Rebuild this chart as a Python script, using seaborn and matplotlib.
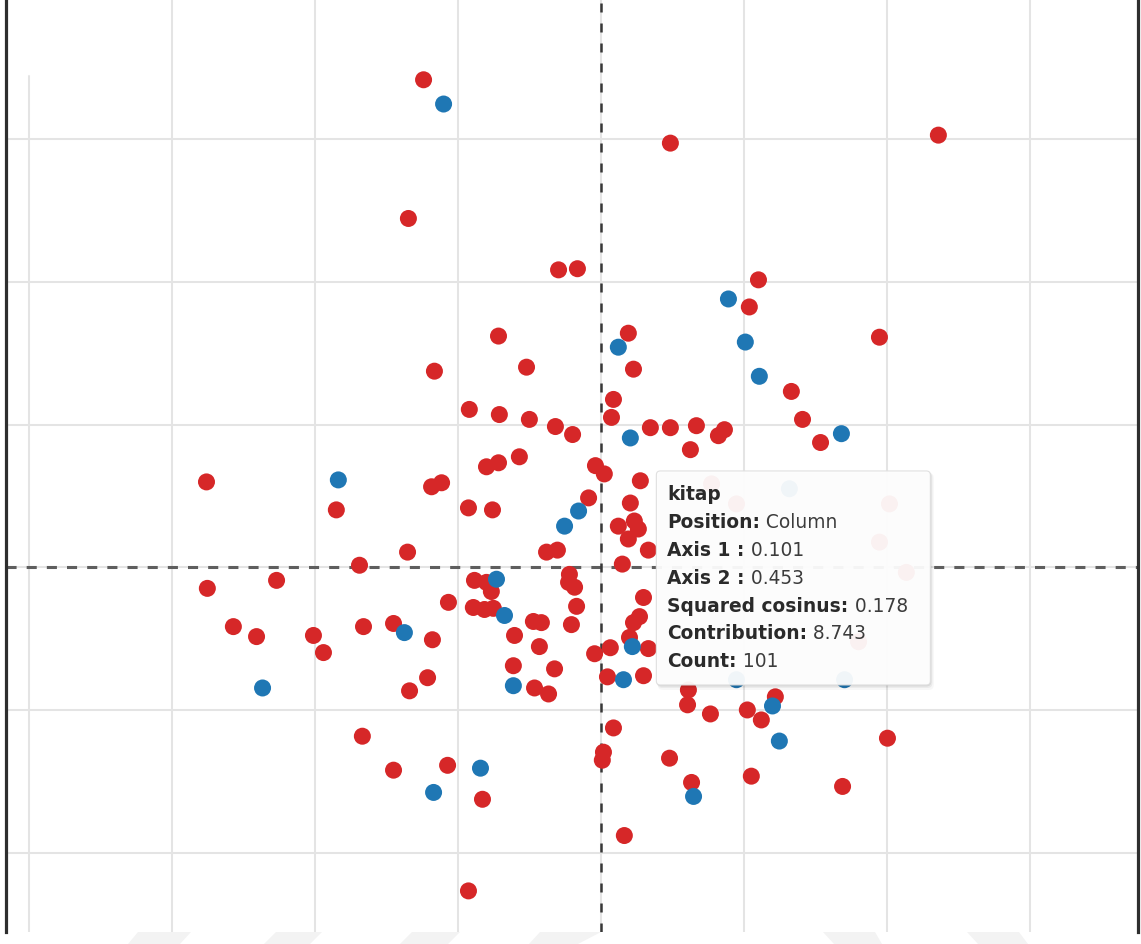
import matplotlib
matplotlib.use("Agg")
import matplotlib.pyplot as plt
import numpy as np
import pandas as pd
import seaborn as sns
from matplotlib.patches import FancyBboxPatch, Polygon
from matplotlib.transforms import IdentityTransform

# Row categories (red) – coordinates on the first two factorial axes
row_axis1 = [-0.622, -0.675, 0.241, 1.178, -0.150, -0.084, 0.549, 0.517, 0.972, -0.360,
             0.094, 0.112, -0.262, -0.584, 0.664, 0.042, -0.462, -0.357, 0.035, -0.252,
             0.703, -0.161, -0.101, 0.171, 0.241, 0.332, 0.409, 0.430, 0.766, 0.311,
             -1.381, -0.927, -0.594, -0.559, -0.402, -0.360, -0.287, -0.465, -0.381, -0.021,
             0.010, 0.136, -0.045, 0.101, 0.059, 0.115, 0.129, 0.094, 0.164, -0.192,
             -0.154, 0.073, -0.678, -0.846, -1.378, -1.136, -0.444, -0.402, -0.385, -0.535,
             -0.448, -0.409, -0.378, -0.112, -0.115, -0.094, -0.087, -0.105, 0.147, 0.133,
             0.112, 0.098, -1.287, -1.206, -1.007, -0.972, -0.832, -0.727, -0.591, -0.238,
             -0.210, -0.304, -0.217, 0.031, -0.024, 0.164, -0.608, -0.671, -0.308, -0.164,
             0.021, 0.147, -0.234, -0.185, 0.304, 0.301, 0.381, 0.510, 0.608, 0.559,
             -0.836, -0.727, -0.538, -0.416, 0.042, 0.007, 0.003, 0.238, 0.315, 0.524,
             0.843, 1.000, 0.080, -0.465, 0.385, 0.472, 1.007, 0.972, 1.066, 0.899]
row_axis2 = [1.708, 1.222, 1.486, 1.514, 1.042, 1.046, 1.007, 0.912, 0.806, 0.810,
             0.820, 0.694, 0.701, 0.687, 0.616, 0.588, 0.553, 0.535, 0.525, 0.518,
             0.518, 0.493, 0.465, 0.489, 0.489, 0.496, 0.461, 0.482, 0.437, 0.412,
             0.299, 0.201, 0.282, 0.296, 0.352, 0.366, 0.387, 0.208, 0.201, 0.356,
             0.327, 0.303, 0.243, 0.225, 0.144, 0.162, 0.134, 0.099, 0.060, 0.053,
             0.060, 0.011, 0.053, 0.007, -0.074, -0.046, -0.046, -0.053, -0.085, -0.123,
             -0.141, -0.148, -0.144, -0.025, -0.053, -0.070, -0.137, -0.201, -0.106, -0.173,
             -0.194, -0.246, -0.208, -0.243, -0.239, -0.299, -0.208, -0.197, -0.254, -0.190,
             -0.194, -0.239, -0.278, -0.282, -0.303, -0.285, -0.387, -0.433, -0.345, -0.356,
             -0.384, -0.380, -0.423, -0.444, -0.430, -0.482, -0.514, -0.500, -0.454, -0.535,
             -0.592, -0.711, -0.694, -0.813, -0.563, -0.648, -0.676, -0.669, -0.754, -0.732,
             -0.768, -0.599, -0.940, -1.134, 0.292, 0.222, 0.222, 0.088, -0.018, -0.261]

# Column categories (blue)
col_labels = ["c01", "c02", "c03", "c04", "c05", "kitap", "c07", "c08", "c09", "c10",
              "c11", "c12", "c13", "c14", "c15", "c16", "c17", "c18", "c19", "c20",
              "c21", "c22", "c23", "c24", "c25"]
col_axis1 = [-0.552, 0.444, 0.503, 0.552, 0.059, 0.101, 0.839, -0.920, -0.080, -0.129,
             -0.367, -0.339, -0.689, 0.108, 0.077, -0.308, -1.185, 0.598, 0.622, -0.423,
             -0.587, 0.322, 0.657, 0.850, 0.472]
col_axis2 = [1.623, 0.940, 0.789, 0.669, 0.771, 0.453, 0.468, 0.306, 0.197, 0.144,
             -0.042, -0.169, -0.229, -0.278, -0.394, -0.415, -0.423, -0.486, -0.609, -0.704,
             -0.789, -0.803, 0.275, -0.394, -0.394]

# Hovered category details
hover_label = "kitap"
hover_position = "Column"
hover_cos2 = 0.178
hover_contrib = 8.743
hover_count = 101

RED = "#d62728"
BLUE = "#1f77b4"

sns.set_theme(style="white")

df = pd.concat([
    pd.DataFrame({"Axis 1": row_axis1, "Axis 2": row_axis2, "Position": "Row"}),
    pd.DataFrame({"Axis 1": col_axis1, "Axis 2": col_axis2, "Position": "Column"}),
], ignore_index=True)

W, H = 1141, 945
fig = plt.figure(figsize=(W / 100, H / 100), dpi=100)
fig.patch.set_facecolor("white")
ax = fig.add_axes([6 / W, 12 / H, 1132 / W, 933 / H])

sns.scatterplot(data=df, x="Axis 1", y="Axis 2", hue="Position",
                palette={"Row": RED, "Column": BLUE}, s=150, linewidth=0,
                legend=False, ax=ax, zorder=3)

ax.set_xlim(-2.082, 1.876)
ax.set_ylim(-1.278, 1.991)
ax.set_xticks([-1.5, -1.0, -0.5, 0.0, 0.5, 1.0, 1.5])
ax.set_yticks([-1.0, -0.5, 0.0, 0.5, 1.0, 1.5])
ax.tick_params(length=0, labelbottom=False, labelleft=False)
ax.set_xlabel("")
ax.set_ylabel("")
ax.grid(True, color="#e4e4e4", lw=1.45, zorder=0)
ax.set_axisbelow(True)
ax.axvline(-2.0, ymax=0.918, color="#e4e4e4", lw=1.45, zorder=0)

# origin lines
ax.axhline(0, color="#5e5e5e", lw=2.2, ls=(0, (3.3, 3.3)), zorder=2)
ax.axvline(0, color="#383838", lw=1.8, ls=(0, (3.6, 4.4)), zorder=2)

for side in ("top", "bottom"):
    ax.spines[side].set_visible(False)
for side in ("left", "right"):
    ax.spines[side].set_color("#2e2e2e")
    ax.spines[side].set_linewidth(2.3)

# tooltip anchored on the hovered point
fig.canvas.draw()
k = col_labels.index(hover_label)
px, py = ax.transData.transform((col_axis1[k], col_axis2[k]))
bx0, btop = px + 26, py - 33
bw, bh = 274, 214
ident = IdentityTransform()
for off, a in ((5, 0.03), (3, 0.05), (1.5, 0.07)):
    ax.add_artist(FancyBboxPatch((bx0 + off * 0.3, btop - bh - off), bw + off * 0.4, bh + off * 0.6,
                                 boxstyle="round,pad=0,rounding_size=5", transform=ident,
                                 facecolor="black", edgecolor="none", alpha=a, zorder=9))
ax.add_artist(FancyBboxPatch((bx0, btop - bh), bw, bh,
                             boxstyle="round,pad=0,rounding_size=4", transform=ident,
                             facecolor="white", edgecolor="#dedede", lw=0.8, alpha=0.94,
                             zorder=10))

lines = [
    (hover_label, None),
    ("Position:", hover_position),
    ("Axis 1 :", f"{col_axis1[k]:.3f}"),
    ("Axis 2 :", f"{col_axis2[k]:.3f}"),
    ("Squared cosinus:", f"{hover_cos2:.3f}"),
    ("Contribution:", f"{hover_contrib:.3f}"),
    ("Count:", f"{hover_count}"),
]
tx = px + 37
for i, (lab, val) in enumerate(lines):
    ty = py - 56 - 27.8 * i
    t = ax.text(tx, ty, lab, transform=ident, ha="left", va="center",
                fontsize=13.4, fontweight="bold", color="#2a2a2a",
                family="DejaVu Sans", zorder=11)
    if val is not None:
        ax.annotate(" " + val, xy=(1, 0), xycoords=t, ha="left", va="bottom",
                    fontsize=13.4, color="#3c3c3c", family="DejaVu Sans", zorder=11)

# faint tab shapes along the lower edge
tabs = [
    [(128, 945), (180, 945), (191, 933), (138, 933)],
    [(264, 945), (310, 945), (322, 933), (276, 933)],
    [(400, 945), (448, 945), (460, 933), (412, 933)],
    [(529, 945), (578, 945), (601, 933), (540, 933)],
    [(834, 945), (882, 945), (875, 933), (823, 933)],
    [(978, 945), (1028, 945), (1019, 933), (967, 933)],
]
for pts in tabs:
    fig.add_artist(Polygon([(x / W, 1 - y / H) for x, y in pts], closed=True,
                           transform=fig.transFigure, facecolor="#f3f3f3",
                           edgecolor="none"))

fig.savefig("out.png", dpi=100, facecolor="white")
